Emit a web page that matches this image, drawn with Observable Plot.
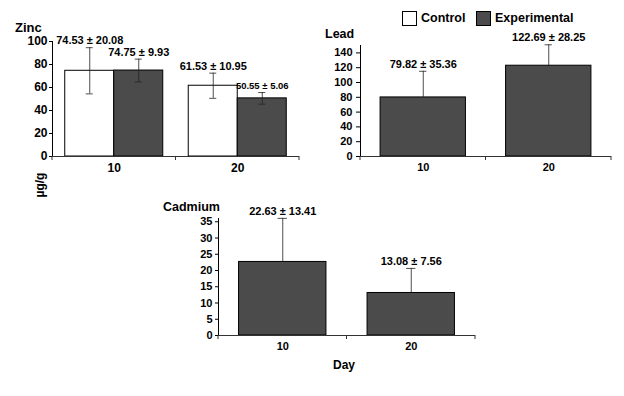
<!DOCTYPE html>
<html><head><meta charset="utf-8">
<script src="https://cdn.jsdelivr.net/npm/d3@7"></script>
<script src="https://cdn.jsdelivr.net/npm/@observablehq/plot@0.6"></script>
<style>
body{margin:0;background:#fff;font-family:"Liberation Sans",Arial,sans-serif;}
#wrap{position:relative;width:624px;height:396px;overflow:hidden;}
.abs{position:absolute;font-weight:bold;color:#000;white-space:nowrap;line-height:14px;}
.panel{position:absolute;}
.sw{position:absolute;width:13px;height:13px;border:1px solid #000;box-sizing:content-box;}
</style></head><body><div id="wrap"></div>
<script>
// ---- data ----
const days = ["10", "20"];
const groups = ["Control", "Experimental"];
const groupColors = ["#ffffff", "#4b4b4b"];
const zincControl = [74.53, 61.53];
const zincControlSD = [20.08, 10.95];
const zincExp = [74.75, 50.55];
const zincExpSD = [9.93, 5.06];
const leadExp = [79.82, 122.69];
const leadExpSD = [35.36, 28.25];
const cadExp = [22.63, 13.08];
const cadExpSD = [13.41, 7.56];
const zincTicks = [0, 20, 40, 60, 80, 100];
const leadTicks = [0, 20, 40, 60, 80, 100, 120, 140];
const cadTicks = [0, 5, 10, 15, 20, 25, 30, 35];

const wrap = document.getElementById("wrap");
const FONT = '"Liberation Sans", Arial, sans-serif';
const fmt = d => `${d.mean.toFixed(2)} ± ${d.sd.toFixed(2)}`;

function addDiv(text, css, cls = "abs") {
  const el = document.createElement("div");
  el.className = cls;
  el.textContent = text;
  Object.assign(el.style, css);
  wrap.appendChild(el);
  return el;
}
function place(svg, left, top) {
  const d = document.createElement("div");
  d.className = "panel";
  d.style.left = left + "px";
  d.style.top = top + "px";
  d.appendChild(svg);
  wrap.appendChild(d);
}
function boundaryTicks(svg, sc, y0, len) {
  // tick marks at category boundaries along the baseline
  const half = (sc.step - sc.bandwidth) / 2;
  const xs = sc.domain.map(v => sc.apply(v) - half);
  xs.push(sc.apply(sc.domain[sc.domain.length - 1]) + sc.bandwidth + half);
  const g = d3.select(svg).append("g").attr("stroke", "#333");
  xs.forEach(x => g.append("line").attr("x1", x).attr("x2", x).attr("y1", y0).attr("y2", y0 + len));
}

// ---- Zinc ----
const zinc = [];
days.forEach((d, i) => {
  zinc.push({day: d, group: "Control", mean: zincControl[i], sd: zincControlSD[i]});
  zinc.push({day: d, group: "Experimental", mean: zincExp[i], sd: zincExpSD[i]});
});
const zincPlot = Plot.plot({
  width: 310, height: 185,
  marginLeft: 52, marginRight: 11, marginTop: 41, marginBottom: 29,
  fx: {domain: days, padding: 0, axis: "bottom", label: null, tickSize: 0, tickPadding: 7, round: false},
  x: {domain: groups, paddingInner: 0, paddingOuter: 0.26, axis: null, round: false},
  y: {domain: [0, 100], ticks: zincTicks, label: null, tickSize: 3, tickPadding: 2, line: true},
  color: {domain: groups, range: groupColors},
  style: {fontFamily: FONT, fontWeight: "bold", fontSize: "12px", color: "#000", background: "transparent"},
  marks: [
    Plot.barY(zinc, {fx: "day", x: "group", y: "mean", fill: "group", stroke: "#000", strokeWidth: 1}),
    Plot.ruleY([0], {stroke: "#333"}),
    Plot.ruleX(zinc, {fx: "day", x: "group", y1: d => d.mean - d.sd, y2: d => d.mean + d.sd, stroke: "#222", strokeWidth: 0.8}),
    Plot.tickY(zinc, {fx: "day", x: "group", y: d => d.mean + d.sd, insetLeft: 21, insetRight: 21, stroke: "#222", strokeWidth: 0.8}),
    Plot.tickY(zinc, {fx: "day", x: "group", y: d => d.mean - d.sd, insetLeft: 21, insetRight: 21, stroke: "#222", strokeWidth: 0.8}),
    Plot.text(zinc, {fx: "day", x: "group", y: d => d.mean + d.sd, text: fmt, dy: -7,
      fontSize: d => (d.day === "20" && d.group === "Experimental") ? 9.5 : 11, fontWeight: "bold", fill: "#000"})
  ]
});
boundaryTicks(zincPlot, zincPlot.scale("fx"), zincPlot.scale("y").apply(0), 4);
place(zincPlot, 0, 0);

// ---- single-series panels ----
function singlePanel(values, sds, opts) {
  const data = days.map((d, i) => ({day: d, mean: values[i], sd: sds[i]}));
  const p = Plot.plot({
    width: opts.width, height: opts.height,
    marginLeft: opts.ml, marginRight: opts.mr, marginTop: opts.mt, marginBottom: opts.mb,
    x: {domain: days, paddingInner: 0.32, paddingOuter: 0.16, label: null, tickSize: 0, tickPadding: 7, round: false},
    y: {domain: opts.yDomain, ticks: opts.ticks, label: null, tickSize: opts.tickSize, tickPadding: opts.tickPadding, line: true},
    style: {fontFamily: FONT, fontWeight: "bold", fontSize: "11px", color: "#000", background: "transparent"},
    marks: [
      Plot.barY(data, {x: "day", y: "mean", fill: groupColors[1], stroke: "#000", strokeWidth: 1}),
      Plot.ruleY([0], {stroke: "#333"}),
      Plot.ruleX(data, {x: "day", y1: "mean", y2: d => d.mean + d.sd, stroke: "#222", strokeWidth: 0.8}),
      Plot.tickY(data, {x: "day", y: d => d.mean + d.sd, insetLeft: 39, insetRight: 39, stroke: "#222", strokeWidth: 0.8}),
      Plot.text(data, {x: "day", y: d => d.mean + d.sd, text: fmt, dy: -7, fontSize: 11, fontWeight: "bold", fill: "#000"})
    ]
  });
  boundaryTicks(p, p.scale("x"), p.scale("y").apply(0), 4);
  return p;
}

const leadPlot = singlePanel(leadExp, leadExpSD, {
  width: 324, height: 185, ml: 60, mr: 13, mt: 45, mb: 29,
  yDomain: [0, 150], ticks: leadTicks, tickSize: 4, tickPadding: 4
});
place(leadPlot, 300, 0);

const cadPlot = singlePanel(cadExp, cadExpSD, {
  width: 350, height: 190, ml: 78, mr: 15, mt: 28, mb: 45,
  yDomain: [0, 36], ticks: cadTicks, tickSize: 3, tickPadding: 3
});
place(cadPlot, 140, 190);

// ---- titles and labels ----
addDiv("Zinc", {left: "15px", top: "21px", fontSize: "13px"});
addDiv("Lead", {left: "325px", top: "27px", fontSize: "12.5px"});
addDiv("Cadmium", {left: "163px", top: "200px", fontSize: "12.5px"});
addDiv("Day", {left: "333px", top: "358px", fontSize: "12px"});
const yl = addDiv("µg/g", {left: "40px", top: "185px", fontSize: "12px"});
yl.style.transform = "translate(-50%,-50%) rotate(-90deg)";

// ---- legend ----
const legendX = [402, 476];
groups.forEach((g, i) => {
  const sw = document.createElement("div");
  sw.className = "sw";
  sw.style.left = legendX[i] + "px";
  sw.style.top = "11px";
  sw.style.background = groupColors[i];
  wrap.appendChild(sw);
  addDiv(g, {left: (legendX[i] + 19) + "px", top: "11px", fontSize: "12.5px"});
});
</script>
</body></html>
